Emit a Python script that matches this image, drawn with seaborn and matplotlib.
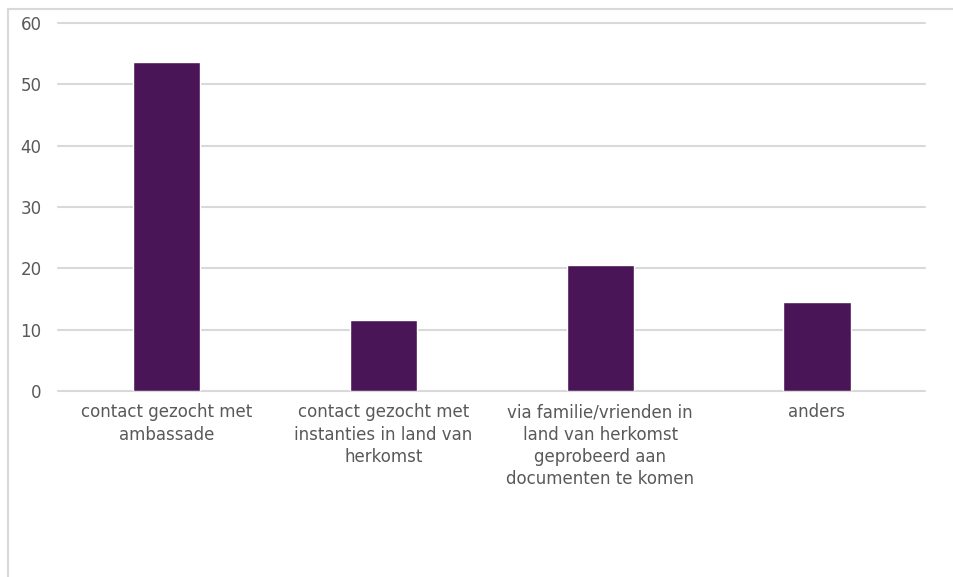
import numpy as np
import pandas as pd
import seaborn as sns
import matplotlib.pyplot as plt
from matplotlib.lines import Line2D

categories = [
    "contact gezocht met\nambassade",
    "contact gezocht met\ninstanties in land van\nherkomst",
    "via familie/vrienden in\nland van herkomst\ngeprobeerd aan\ndocumenten te komen",
    "anders",
]
values = [53.6, 11.6, 20.5, 14.5]
yticks = [0, 10, 20, 30, 40, 50, 60]

df = pd.DataFrame({"categorie": categories, "waarde": values})

sns.set_style("white")
plt.rcParams["font.family"] = ["DejaVu Sans"]

fig = plt.figure(figsize=(9.54, 5.77), dpi=100)
ax = fig.add_axes([0.061, 0.3224, 0.909, 0.6377])

sns.barplot(data=df, x="categorie", y="waarde", color="#491556",
            width=0.31, saturation=1, ax=ax, zorder=3)

ax.set_ylim(0, 60)
ax.set_yticks(yticks)
ax.set_xlim(-0.5, len(categories) - 0.5)
ax.yaxis.grid(True, color="#D9D9D9", linewidth=1.5, zorder=0)
for gl in ax.get_ygridlines():
    gl.set_clip_on(False)
ax.set_axisbelow(True)
for s in ax.spines.values():
    s.set_visible(False)
ax.set_xlabel("")
ax.set_ylabel("")
ax.tick_params(axis="both", length=0, labelsize=12, labelcolor="#595959")
ax.tick_params(axis="y", pad=12)
ax.tick_params(axis="x", pad=9)
for lbl in ax.get_xticklabels():
    lbl.set_linespacing(1.3)

# chart area border (cropped screenshot: only top and left visible)
fig.add_artist(Line2D([8 / 954, 1], [1 - 8.5 / 577, 1 - 8.5 / 577],
                      transform=fig.transFigure, color="#D9D9D9", lw=1.5))
fig.add_artist(Line2D([8 / 954, 8 / 954], [0, 1 - 8.5 / 577],
                      transform=fig.transFigure, color="#D9D9D9", lw=1.5))

fig.savefig("out.png", dpi=100)
